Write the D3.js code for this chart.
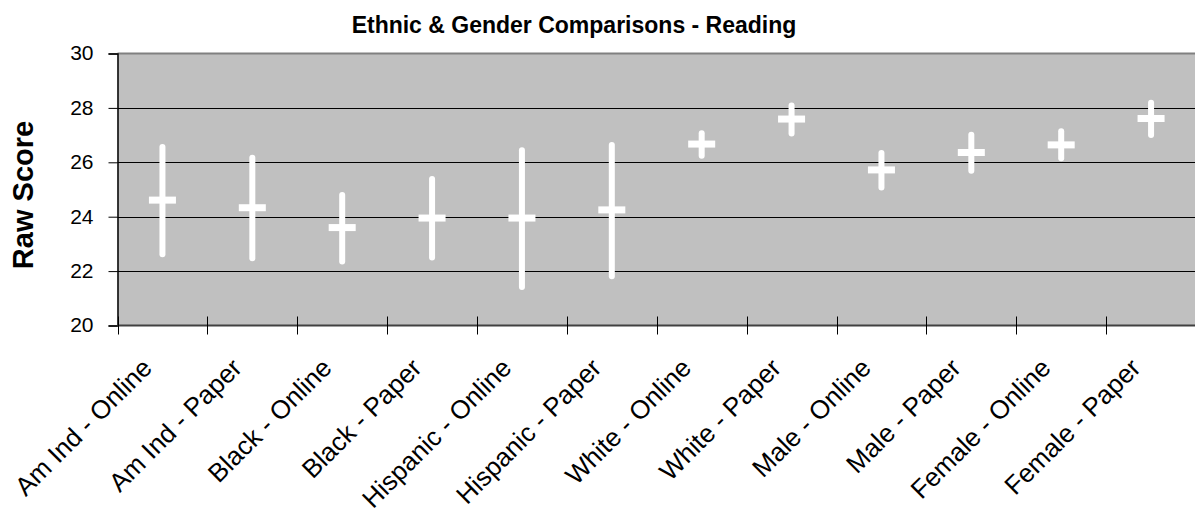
<!DOCTYPE html>
<html>
<head>
<meta charset="utf-8">
<script src="https://cdn.jsdelivr.net/npm/d3@7"></script>
<style>
  html, body { margin: 0; padding: 0; background: #ffffff; }
  svg { display: block; font-family: "Liberation Sans", Arial, sans-serif; }
</style>
</head>
<body>
<svg id="chart" width="1195" height="521"></svg>
<script>
// Reading raw scores by group and test mode: mean with high/low range
const categories = [
  "Am Ind - Online", "Am Ind - Paper", "Black - Online", "Black - Paper",
  "Hispanic - Online", "Hispanic - Paper", "White - Online", "White - Paper",
  "Male - Online", "Male - Paper", "Female - Online", "Female - Paper"
];
const highValues = [26.56, 26.17, 24.80, 25.39, 26.44, 26.64, 27.07, 28.09, 26.34, 27.01, 27.14, 28.19];
const lowValues  = [22.62, 22.47, 22.35, 22.50, 21.42, 21.81, 26.24, 27.06, 25.07, 25.69, 26.15, 27.00];
const meanValues = [24.61, 24.33, 23.60, 23.95, 23.95, 24.25, 26.67, 27.59, 25.72, 26.36, 26.64, 27.61];
const yTicks = [20, 22, 24, 26, 28, 30];

const svg = d3.select("#chart");
const plot = { left: 117.5, right: 1196, top: 53.5, bottom: 325.5 };

const x = d3.scaleBand().domain(categories).range([plot.left, plot.right]).padding(0);
const y = d3.scaleLinear().domain([20, 30]).range([plot.bottom, plot.top]);

// plot area background
svg.append("rect")
  .attr("x", plot.left).attr("y", plot.top)
  .attr("width", plot.right - plot.left).attr("height", plot.bottom - plot.top)
  .attr("fill", "#c0c0c0");

// horizontal gridlines
svg.append("g")
  .selectAll("line")
  .data(yTicks.filter(v => v > 20 && v < 30))
  .join("line")
  .attr("x1", plot.left).attr("x2", plot.right)
  .attr("y1", d => Math.round(y(d)) + 0.5).attr("y2", d => Math.round(y(d)) + 0.5)
  .attr("stroke", "#000").attr("stroke-width", 1);

// plot area top border
svg.append("line")
  .attr("x1", plot.left).attr("x2", plot.right)
  .attr("y1", plot.top).attr("y2", plot.top)
  .attr("stroke", "#808080").attr("stroke-width", 2);

// y axis
const yAxis = d3.axisLeft(y).tickValues(yTicks).tickSize(9).tickPadding(15).tickFormat(d3.format("d"));
const gy = svg.append("g").attr("transform", `translate(${plot.left},0)`).call(yAxis);
gy.select(".domain").attr("stroke", "#000").attr("stroke-width", 1.5);
gy.selectAll(".tick line").attr("stroke", "#000");
gy.selectAll(".tick text")
  .attr("fill", "#000")
  .style("font-size", "21px")
  .attr("dy", "0.3em");

// x axis: ticks at category boundaries crossing the axis line
const boundaries = categories.map(c => x(c)).concat([x(categories[categories.length - 1]) + x.bandwidth()]);
svg.append("line")
  .attr("x1", plot.left).attr("x2", plot.right)
  .attr("y1", plot.bottom).attr("y2", plot.bottom)
  .attr("stroke", "#404040").attr("stroke-width", 2);
svg.append("g")
  .selectAll("line")
  .data(boundaries)
  .join("line")
  .attr("x1", d => Math.round(d) + 0.5).attr("x2", d => Math.round(d) + 0.5)
  .attr("y1", plot.bottom - 9).attr("y2", plot.bottom + 9)
  .attr("stroke", "#000").attr("stroke-width", 1);

// category labels, rotated 45 degrees
svg.append("g")
  .selectAll("text")
  .data(categories)
  .join("text")
  .attr("transform", d => `translate(${x(d) + x.bandwidth() / 2 - 9},${plot.bottom + 44}) rotate(-45)`)
  .attr("text-anchor", "end")
  .attr("fill", "#000")
  .style("font-size", "26px")
  .text(d => d);

// high-low range lines
const marks = svg.append("g");
marks.selectAll("line.range")
  .data(categories)
  .join("line")
  .attr("class", "range")
  .attr("x1", d => x(d) + x.bandwidth() / 2)
  .attr("x2", d => x(d) + x.bandwidth() / 2)
  .attr("y1", (d, i) => y(highValues[i]))
  .attr("y2", (d, i) => y(lowValues[i]))
  .attr("stroke", "#ffffff").attr("stroke-width", 6).attr("stroke-linecap", "round");

// mean markers
marks.selectAll("rect.mean")
  .data(categories)
  .join("rect")
  .attr("class", "mean")
  .attr("x", d => x(d) + x.bandwidth() / 2 - 13.5)
  .attr("y", (d, i) => y(meanValues[i]) - 3.5)
  .attr("width", 27).attr("height", 7)
  .attr("fill", "#ffffff");

// title
svg.append("text")
  .attr("x", 574).attr("y", 33)
  .attr("text-anchor", "middle")
  .attr("font-weight", "bold")
  .attr("fill", "#000")
  .style("font-size", "23px")
  .text("Ethnic & Gender Comparisons - Reading");

// y axis title
svg.append("text")
  .attr("transform", `translate(33,195) rotate(-90)`)
  .attr("text-anchor", "middle")
  .attr("font-weight", "bold")
  .attr("fill", "#000")
  .style("font-size", "29px")
  .text("Raw Score");
</script>
</body>
</html>
